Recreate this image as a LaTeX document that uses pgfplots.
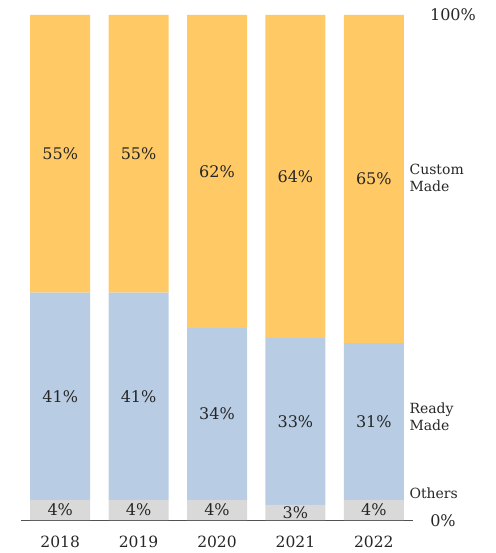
\documentclass[border=0pt]{standalone}
\usepackage{pgfplots}
\pgfplotsset{compat=1.18}
\usepackage{fontspec}
\setmainfont{DejaVu Serif}
\definecolor{cOrange}{HTML}{FFC966}
\definecolor{cBlue}{HTML}{B8CCE4}
\definecolor{cGrey}{HTML}{D9D9D9}
\definecolor{cText}{HTML}{262626}
\begin{document}
\begin{tikzpicture}[font=\fontsize{14}{16}\selectfont, text=cText]
\pgfplotsset{base/.style={
  scale only axis, width=392pt, height=505pt,
  xmin=-0.5, xmax=4.5, ymin=0, ymax=100,
  at={(0pt,0pt)}, anchor=south west,
  /pgf/number format/assume math mode=true,
}}
\begin{axis}[base,
  ybar stacked, bar width=60pt,
  axis x line=bottom, axis y line=none,
  x axis line style={-, draw=cText!80, line width=0.8pt},
  xtick=data, xticklabels={2018,2019,2020,2021,2022},
  xtick style={draw=none},
  xticklabel style={yshift=-20pt, anchor=center, text=cText, font=\fontsize{15.5}{18}\selectfont},
  ytick=\empty,
  clip=false,
]
\addplot[fill=cGrey, draw=none] coordinates {(0,4) (1,4) (2,4) (3,3) (4,4)};
\addplot[fill=cBlue, draw=none] coordinates {(0,41) (1,41) (2,34) (3,33) (4,31)};
\addplot[fill=cOrange, draw=none] coordinates {(0,55) (1,55) (2,62) (3,64) (4,65)};
\end{axis}
\begin{axis}[base, axis lines=none, clip=false,
  nodes near coords, point meta=explicit symbolic,
  every node near coord/.append style={anchor=center, text=cText, font=\fontsize{16}{18}\selectfont},
]
\addplot[only marks, mark=none] coordinates {
 (0,2)[4\%] (1,2)[4\%] (2,2)[4\%] (3,1.5)[3\%] (4,2)[4\%]
 (0,24.5)[41\%] (1,24.5)[41\%] (2,21)[34\%] (3,19.5)[33\%] (4,19.5)[31\%]
 (0,72.5)[55\%] (1,72.5)[55\%] (2,69)[62\%] (3,68)[64\%] (4,67.5)[65\%]
};
\node[anchor=center, font=\fontsize{16}{18}\selectfont] at (axis cs:4.5,100) [xshift=40pt] {100\%};
\node[anchor=center, font=\fontsize{16}{18}\selectfont] at (axis cs:4.5,0) [xshift=30pt, yshift=-1pt] {0\%};
\node[anchor=west, align=left, font=\fontsize{14}{17}\selectfont] at (axis cs:4.5,67.7) [xshift=-7pt] {Custom\\Made};
\node[anchor=west, align=left, font=\fontsize{14}{17}\selectfont] at (axis cs:4.5,20.4) [xshift=-7pt] {Ready\\Made};
\node[anchor=west] at (axis cs:4.5,5.3) [xshift=-7pt] {Others};
\end{axis}
\pgfresetboundingbox
\useasboundingbox (-21pt,-33pt) rectangle (474pt,520pt);
\end{tikzpicture}
\end{document}
